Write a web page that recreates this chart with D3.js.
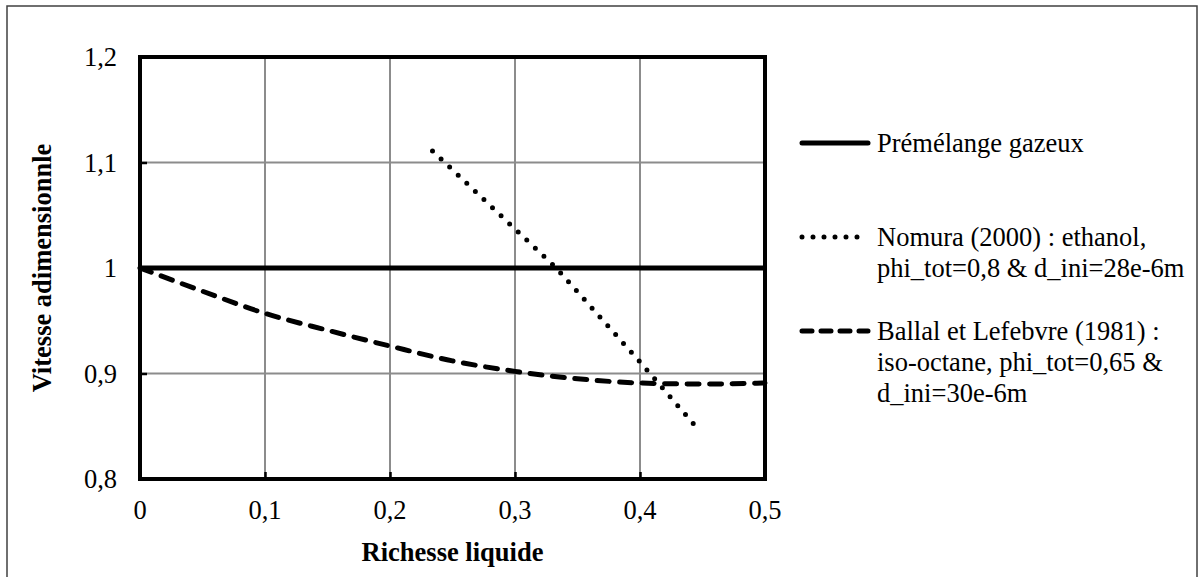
<!DOCTYPE html>
<html>
<head>
<meta charset="utf-8">
<script src="https://cdn.jsdelivr.net/npm/d3@7"></script>
<style>
  body { margin: 0; background: #fff; }
</style>
</head>
<body>
<script>
// data
const xTicks = [0, 0.1, 0.2, 0.3, 0.4, 0.5];
const yTicks = [0.8, 0.9, 1.0, 1.1, 1.2];

const premelangeX = [0, 0.5];
const premelangeY = [1.0, 1.0];

const nomuraX = [0.234, 0.333, 0.4, 0.443];
const nomuraY = [1.111, 1.0, 0.911, 0.852];

const ballalX = [0, 0.05, 0.1, 0.15, 0.2, 0.25, 0.3, 0.35, 0.4, 0.45, 0.5];
const ballalY = [1.0, 0.978, 0.957, 0.941, 0.926, 0.912, 0.902, 0.895, 0.891, 0.890, 0.891];

const seriesNames = [
  ["Prémélange gazeux"],
  ["Nomura (2000) : ethanol,", "phi_tot=0,8 & d_ini=28e-6m"],
  ["Ballal et Lefebvre (1981) :", "iso-octane, phi_tot=0,65 &", "d_ini=30e-6m"]
];

const FONT = "'Liberation Serif', 'Times New Roman', serif";

let width = 1199,
  height = 577;

let margin = { left: 140, right: 434, top: 57, bottom: 98 };

let svg = d3.select("body").append("svg")
  .attr("width", width)
  .attr("height", height)
  .attr("font-family", FONT);

// outer chart border
svg.append("rect")
  .attr("x", 7).attr("y", 6)
  .attr("width", 1190).attr("height", 600)
  .attr("fill", "none")
  .attr("stroke", "#404040")
  .attr("stroke-width", 1.5);

let x = d3.scaleLinear().domain([0, 0.5]).range([margin.left, width - margin.right]);
let y = d3.scaleLinear().domain([0.8, 1.2]).range([height - margin.bottom, margin.top]);

let fmt = d => String(+d.toFixed(1)).replace(".", ",");

// gridlines
svg.append("g")
  .selectAll("line")
  .data(xTicks.slice(1, -1))
  .enter().append("line")
  .attr("x1", d => x(d)).attr("x2", d => x(d))
  .attr("y1", y(1.2)).attr("y2", y(0.8))
  .attr("stroke", "#8c8c8c").attr("stroke-width", 2);

svg.append("g")
  .selectAll("line")
  .data(yTicks.slice(1, -1))
  .enter().append("line")
  .attr("x1", x(0)).attr("x2", x(0.5))
  .attr("y1", d => y(d)).attr("y2", d => y(d))
  .attr("stroke", "#8c8c8c").attr("stroke-width", 2);

// axes (ticks inside, labels drawn separately)
let xAxis = svg.append("g")
  .attr("transform", `translate(0,${y(0.8)})`)
  .call(d3.axisBottom(x).tickValues(xTicks).tickSize(-7).tickFormat(""));
let yAxis = svg.append("g")
  .attr("transform", `translate(${x(0)},0)`)
  .call(d3.axisLeft(y).tickValues(yTicks).tickSize(-7).tickFormat(""));
[xAxis, yAxis].forEach(a => {
  a.select(".domain").remove();
  a.selectAll(".tick line").attr("stroke", "#000").attr("stroke-width", 2.5);
});

// plot frame
svg.append("rect")
  .attr("x", x(0)).attr("y", y(1.2))
  .attr("width", x(0.5) - x(0)).attr("height", y(0.8) - y(1.2))
  .attr("fill", "none")
  .attr("stroke", "#000")
  .attr("stroke-width", 4);

// tick labels
svg.append("g")
  .selectAll("text")
  .data(xTicks)
  .enter().append("text")
  .attr("x", d => x(d))
  .attr("y", y(0.8) + 40)
  .attr("text-anchor", "middle")
  .attr("font-family", FONT)
  .attr("font-size", 26.5)
  .text(d => fmt(d));

svg.append("g")
  .selectAll("text")
  .data(yTicks)
  .enter().append("text")
  .attr("x", x(0) - 23)
  .attr("y", d => y(d))
  .attr("dy", "0.34em")
  .attr("text-anchor", "end")
  .attr("font-family", FONT)
  .attr("font-size", 26.5)
  .text(d => fmt(d));

// axis titles
svg.append("text")
  .attr("x", (x(0) + x(0.5)) / 2)
  .attr("y", 561)
  .attr("text-anchor", "middle")
  .attr("font-family", FONT)
  .attr("font-size", 26.5)
  .attr("font-weight", "bold")
  .text("Richesse liquide");

svg.append("text")
  .attr("transform", `translate(51,${(y(0.8) + y(1.2)) / 2}) rotate(-90)`)
  .attr("text-anchor", "middle")
  .attr("font-family", FONT)
  .attr("font-size", 26.5)
  .attr("font-weight", "bold")
  .text("Vitesse adimensionnle");

// series
let styles = [
  { width: 5, dash: null, cap: "butt" },
  { width: 5, dash: "0 11.8", cap: "round" },
  { width: 5, dash: "12 10.5", cap: "round" }
];

let series = [
  d3.zip(premelangeX, premelangeY),
  d3.zip(nomuraX, nomuraY),
  d3.zip(ballalX, ballalY)
];

let line = d3.line().x(d => x(d[0])).y(d => y(d[1]));
let smooth = d3.line().x(d => x(d[0])).y(d => y(d[1])).curve(d3.curveMonotoneX);

series.forEach((s, i) => {
  svg.append("path")
    .datum(s)
    .attr("d", i === 2 ? smooth : line)
    .attr("fill", "none")
    .attr("stroke", "#000")
    .attr("stroke-width", styles[i].width)
    .attr("stroke-linecap", styles[i].cap)
    .attr("stroke-dasharray", styles[i].dash);
});

// legend
let legendY = [143, 237, 331];
let lineH = 31;

let legend = svg.append("g")
  .selectAll("g")
  .data(seriesNames)
  .enter().append("g")
  .attr("transform", (d, i) => `translate(0,${legendY[i]})`);

legend.append("line")
  .attr("x1", 802).attr("x2", 868)
  .attr("y1", 0).attr("y2", 0)
  .attr("stroke", "#000")
  .attr("stroke-width", (d, i) => styles[i].width)
  .attr("stroke-linecap", "round")
  .attr("stroke-dasharray", (d, i) => i === 1 ? "0 11" : (i === 2 ? "10 9" : null));

legend.each(function(d) {
  let t = d3.select(this).append("text")
    .attr("x", 877)
    .attr("y", 0)
    .attr("font-family", FONT)
    .attr("font-size", 26.5);
  d.forEach((s, j) => {
    t.append("tspan")
      .attr("x", 877)
      .attr("dy", j === 0 ? "0.34em" : lineH)
      .text(s);
  });
});
</script>
</body>
</html>
